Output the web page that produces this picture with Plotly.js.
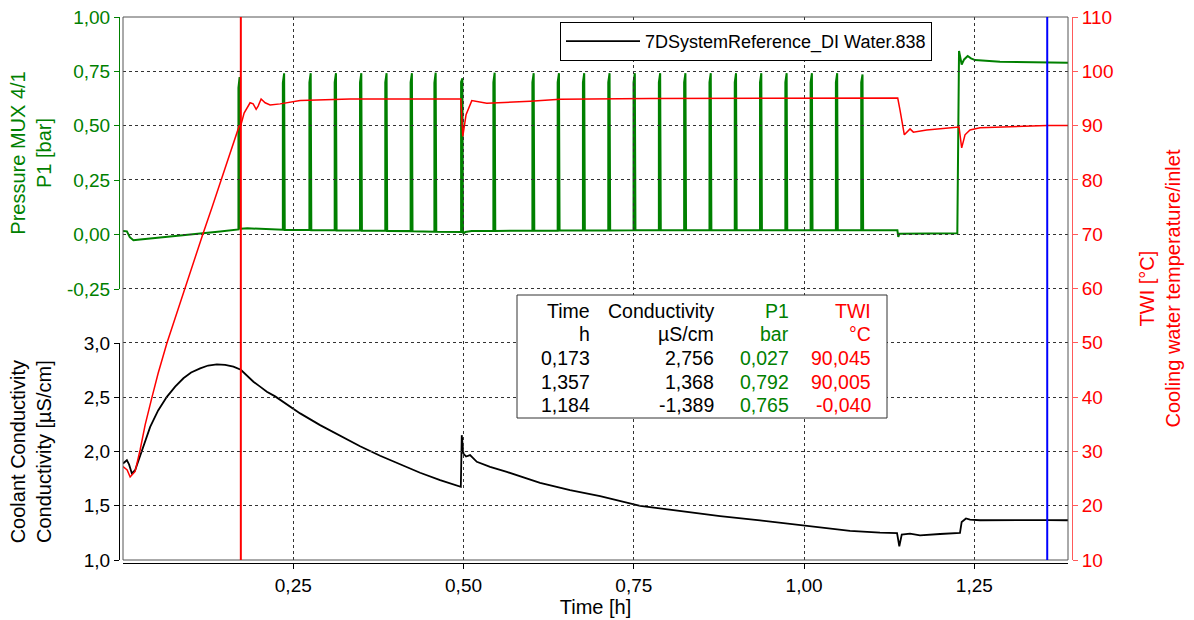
<!DOCTYPE html>
<html>
<head>
<meta charset="utf-8">
<script src="https://cdn.plot.ly/plotly-3.0.1.min.js"></script>
<style>
  html, body { margin: 0; padding: 0; background: #fff; }
  #chart { width: 1194px; height: 620px; }
</style>
</head>
<body>
<div id="chart"></div>
<script>
// ---- Coolant conductivity [µS/cm] over time [h] ----
const conductivityTime = [
  0.0000, 0.0057, 0.0090, 0.0130, 0.0178, 0.0252, 0.0325, 0.0399, 0.0516, 0.0644,
  0.0766, 0.0887, 0.1000, 0.1133, 0.1250, 0.1378, 0.1500, 0.1621, 0.1730, 0.1823,
  0.1915, 0.2013, 0.2112, 0.2234, 0.2355, 0.2468, 0.2601, 0.2894, 0.3188, 0.3481,
  0.3775, 0.4069, 0.4362, 0.4656, 0.4960, 0.4974, 0.4998, 0.5037, 0.5096, 0.5195,
  0.5390, 0.5635, 0.5830, 0.6124, 0.6564, 0.7005, 0.7592, 0.8179, 0.8766, 0.9353,
  1.0000, 1.0675, 1.1115, 1.1365, 1.1398, 1.1434, 1.1555, 1.1702, 1.1996, 1.2289,
  1.2314, 1.2377, 1.2436, 1.2583, 1.3570, 1.3875
];
const conductivity = [
  1.891, 1.921, 1.880, 1.799, 1.829, 1.970, 2.100, 2.229, 2.380, 2.506,
  2.600, 2.677, 2.730, 2.769, 2.795, 2.806, 2.801, 2.784, 2.756, 2.700,
  2.645, 2.600, 2.553, 2.510, 2.460, 2.410, 2.353, 2.245, 2.145, 2.050,
  1.962, 1.880, 1.805, 1.737, 1.675, 2.152, 1.983, 1.955, 1.968, 1.906,
  1.860, 1.813, 1.770, 1.712, 1.645, 1.590, 1.500, 1.450, 1.405, 1.365,
  1.320, 1.268, 1.252, 1.248, 1.127, 1.235, 1.244, 1.228, 1.240, 1.250,
  1.351, 1.383, 1.373, 1.367, 1.368, 1.367
];

// ---- TWI, cooling water temperature at inlet [°C] ----
const twiTime = [
  0.0000, 0.0061, 0.0105, 0.0149, 0.0178, 0.0252, 0.0325, 0.0424, 0.0516, 0.0644,
  0.0766, 0.0912, 0.1044, 0.1172, 0.1309, 0.1441, 0.1573, 0.1705, 0.1730, 0.1778,
  0.1866, 0.1911, 0.1955, 0.1984, 0.2028, 0.2087, 0.2160, 0.2307, 0.2601, 0.3335,
  0.4069, 0.4960, 0.4989, 0.5037, 0.5121, 0.5214, 0.5341, 0.5977, 0.6417, 0.7739,
  0.9207, 1.0675, 1.1375, 1.1408, 1.1472, 1.1556, 1.1604, 1.1800, 1.2241, 1.2275,
  1.2314, 1.2363, 1.2436, 1.2583, 1.3570, 1.3875
];
const twi = [
  27.2, 26.6, 25.3, 26.0, 26.3, 30.3, 34.9, 39.9, 44.4, 49.9,
  54.6, 59.9, 65.1, 70.0, 75.0, 79.9, 85.0, 89.9, 90.045, 92.3,
  94.2, 94.0, 93.0, 93.6, 94.9, 94.2, 93.8, 94.0, 94.6, 94.9,
  94.9, 94.9, 88.0, 92.0, 94.6, 94.35, 94.1, 94.5, 94.85, 95.0,
  95.05, 95.1, 95.08, 92.9, 88.3, 89.4, 88.8, 89.2, 89.7, 89.75,
  85.9, 88.3, 89.2, 89.6, 90.005, 90.0
];

// ---- Pressure MUX 4/1, P1 [bar] ----
const pressureTime = [
  0.0000, 0.0057, 0.0100, 0.0153, 0.0252, 0.0545, 0.0839, 0.1133, 0.1426,
  0.1695, 0.1695, 0.1712, 0.1721, 0.1730, 0.1826, 0.2160,
  0.2347, 0.2347, 0.2366, 0.2375,
  0.2737, 0.2737, 0.2756, 0.2765,
  0.3108, 0.3108, 0.3127, 0.3136,
  0.3480, 0.3480, 0.3499, 0.3508,
  0.3851, 0.3851, 0.3870, 0.3879,
  0.4223, 0.4223, 0.4242, 0.4251,
  0.4572, 0.4572, 0.4591, 0.4600,
  0.4964, 0.4964, 0.4983, 0.4992, 0.5000, 0.5025, 0.5120,
  0.5438, 0.5438, 0.5457, 0.5466,
  0.6011, 0.6011, 0.6030, 0.6039,
  0.6382, 0.6382, 0.6401, 0.6410,
  0.6753, 0.6753, 0.6772, 0.6781,
  0.7125, 0.7125, 0.7144, 0.7153,
  0.7496, 0.7496, 0.7515, 0.7524,
  0.7868, 0.7868, 0.7887, 0.7896,
  0.8239, 0.8239, 0.8258, 0.8267,
  0.8611, 0.8611, 0.8630, 0.8639,
  0.8982, 0.8982, 0.9001, 0.9010,
  0.9353, 0.9353, 0.9372, 0.9381,
  0.9725, 0.9725, 0.9744, 0.9753,
  1.0096, 1.0096, 1.0115, 1.0124,
  1.0467, 1.0467, 1.0486, 1.0495,
  1.0839, 1.0839, 1.0858, 1.0867,
  1.1370, 1.1383, 1.1400, 1.1600, 1.2000, 1.2250,
  1.2275, 1.2314, 1.2350, 1.2402, 1.2450, 1.2510, 1.2877, 1.3570, 1.3875
];
const pressure = [
  0.017, 0.015, -0.012, -0.026, -0.022, -0.012, -0.003, 0.005, 0.014,
  0.024, 0.675, 0.724, 0.028, 0.027, 0.029, 0.025,
  0.022, 0.698, 0.741, 0.021,
  0.021, 0.700, 0.742, 0.020,
  0.020, 0.700, 0.742, 0.019,
  0.019, 0.700, 0.742, 0.018,
  0.018, 0.700, 0.742, 0.017,
  0.016, 0.700, 0.742, 0.015,
  0.013, 0.698, 0.744, 0.013,
  0.012, 0.702, 0.718, 0.010, 0.004, 0.012, 0.016,
  0.017, 0.700, 0.744, 0.017,
  0.018, 0.700, 0.742, 0.018,
  0.018, 0.700, 0.742, 0.019,
  0.019, 0.700, 0.742, 0.019,
  0.019, 0.700, 0.742, 0.019,
  0.020, 0.700, 0.742, 0.020,
  0.020, 0.700, 0.742, 0.020,
  0.020, 0.700, 0.742, 0.020,
  0.020, 0.700, 0.742, 0.020,
  0.020, 0.700, 0.742, 0.020,
  0.020, 0.700, 0.742, 0.020,
  0.020, 0.700, 0.742, 0.020,
  0.020, 0.700, 0.742, 0.020,
  0.020, 0.700, 0.742, 0.020,
  0.020, 0.700, 0.736, 0.020,
  0.020, -0.011, 0.004, 0.005, 0.006, 0.006,
  0.844, 0.782, 0.805, 0.821, 0.810, 0.802, 0.794, 0.792, 0.790
];

// ---- Axis ticks ----
const timeTicks = [0.25, 0.5, 0.75, 1.0, 1.25];
const timeTickLabels = ['0,25', '0,50', '0,75', '1,00', '1,25'];
const pressureTicks = [-0.25, 0, 0.25, 0.5, 0.75, 1.0];
const pressureTickLabels = ['-0,25', '0,00', '0,25', '0,50', '0,75', '1,00'];
const conductivityTicks = [1.0, 1.5, 2.0, 2.5, 3.0];
const conductivityTickLabels = ['1,0', '1,5', '2,0', '2,5', '3,0'];
const twiTicks = [10, 20, 30, 40, 50, 60, 70, 80, 90, 100, 110];

// ---- Cursor readout table ----
const tableHeader = ['Time', 'Conductivity', 'P1', 'TWI'];
const tableUnits = ['h', 'µS/cm', 'bar', '°C'];
const cursor1 = [0.173, 2.756, 0.027, 90.045];
const cursor2 = [1.357, 1.368, 0.792, 90.005];
const cursorDiff = [1.184, -1.389, 0.765, -0.040];

const seriesName = '7DSystemReference_DI Water.838';

// ---- Styling / geometry ----
const FONT = 'Liberation Sans, Arial, Helvetica, sans-serif';
const GREEN = '#008000';
const RED = '#ff0000';
const BLUE = '#0000ff';
const TICK_SIZE = 19;
const TITLE_SIZE = 20;
const L = 119, R = 1072, T = 17, B = 563;          // paper box in px
const fx = v => (v - L) / (R - L);
const fy = v => (B - v) / (B - T);
const xDomain = [fx(123), fx(1068)];
const plotBottom = fy(560);

const fmt = v => v.toFixed(3).replace('.', ',');

const traces = [
  {
    x: twiTime, y: twi, xaxis: 'x2', yaxis: 'y3',
    type: 'scatter', mode: 'lines', name: 'TWI', showlegend: false,
    line: { color: RED, width: 1.5 }
  },
  {
    x: conductivityTime, y: conductivity, xaxis: 'x', yaxis: 'y',
    type: 'scatter', mode: 'lines', name: seriesName, showlegend: true,
    line: { color: '#000000', width: 1.8 }
  },
  {
    x: pressureTime, y: pressure, xaxis: 'x', yaxis: 'y2',
    type: 'scatter', mode: 'lines', name: 'P1', showlegend: false,
    line: { color: GREEN, width: 2 }
  }
];

// cursor readout cells
const colX = [fx(592), fx(716), fx(791), fx(872.5)];
const rowY = [fy(310.5), fy(334), fy(357.5), fy(381.5), fy(405)];
const colColor = ['#000000', '#000000', GREEN, RED];
const rows = [tableHeader, tableUnits, cursor1.map(fmt), cursor2.map(fmt), cursorDiff.map(fmt)];
const annotations = [];
rows.forEach((row, r) => {
  row.forEach((txt, c) => {
    annotations.push({
      xref: 'paper', yref: 'paper', x: colX[c], y: rowY[r],
      xanchor: 'right', yanchor: 'middle', showarrow: false,
      text: txt, font: { family: FONT, size: 19.5, color: colColor[c] }
    });
  });
});

const shapes = [
  // plot frame
  { type: 'rect', xref: 'paper', yref: 'paper', x0: xDomain[0], x1: xDomain[1], y0: plotBottom, y1: 1,
    line: { color: '#555555', width: 1 }, fillcolor: 'rgba(0,0,0,0)', layer: 'above' },
  // readout box
  { type: 'rect', xref: 'paper', yref: 'paper', x0: fx(517), x1: fx(887), y0: fy(418), y1: fy(295),
    line: { color: '#333333', width: 1 }, fillcolor: '#ffffff', layer: 'above' },
  // cursors
  { type: 'line', xref: 'x', yref: 'paper', x0: cursor1[0], x1: cursor1[0], y0: plotBottom, y1: 1,
    line: { color: RED, width: 2 }, layer: 'above' },
  { type: 'line', xref: 'x', yref: 'paper', x0: cursor2[0], x1: cursor2[0], y0: plotBottom, y1: 1,
    line: { color: BLUE, width: 2 }, layer: 'above' }
];

const timeRange = [0, 1.3875];

const layout = {
  width: 1194, height: 620,
  margin: { l: L, r: 1194 - R, t: T, b: 620 - B, pad: 0 },
  paper_bgcolor: '#ffffff', plot_bgcolor: 'rgba(0,0,0,0)',
  font: { family: FONT, size: TICK_SIZE, color: '#000000' },
  hovermode: false,
  showlegend: true,
  legend: {
    x: fx(560), y: fy(22), xanchor: 'left', yanchor: 'top',
    bgcolor: '#ffffff', bordercolor: '#000000', borderwidth: 1, itemwidth: 74,
    font: { family: FONT, size: 18, color: '#000000' }
  },
  xaxis: {
    domain: xDomain, range: timeRange, anchor: 'free', position: 0,
    showline: true, linecolor: '#000000', linewidth: 1, mirror: false,
    ticks: 'outside', ticklen: 5, tickcolor: '#000000',
    tickmode: 'array', tickvals: timeTicks, ticktext: timeTickLabels,
    showgrid: false, zeroline: false,
    tickfont: { family: FONT, size: TICK_SIZE, color: '#000000' },
    title: { text: 'Time [h]', font: { family: FONT, size: TITLE_SIZE, color: '#000000' }, standoff: 1 }
  },
  xaxis2: {
    domain: xDomain, range: timeRange, anchor: 'y3',
    showline: false, showticklabels: false, ticks: '',
    tickmode: 'array', tickvals: timeTicks,
    showgrid: true, gridcolor: '#333333', griddash: 'dot', gridwidth: 1, zeroline: false
  },
  yaxis: {
    domain: [plotBottom, fy(343.3)], range: [1, 3], anchor: 'free', position: 0, side: 'left',
    showline: true, linecolor: '#000000', linewidth: 1,
    ticks: 'outside', ticklen: 5, tickcolor: '#000000',
    tickmode: 'array', tickvals: conductivityTicks, ticktext: conductivityTickLabels,
    showgrid: false, zeroline: false,
    tickfont: { family: FONT, size: TICK_SIZE, color: '#000000' },
    title: { text: 'Coolant Conductivity<br>Conductivity [µS/cm]',
             font: { family: FONT, size: TITLE_SIZE, color: '#000000' }, standoff: 25 }
  },
  yaxis2: {
    domain: [fy(289), 1], range: [-0.25, 1.0], anchor: 'free', position: 0, side: 'left',
    showline: true, linecolor: GREEN, linewidth: 1,
    ticks: 'outside', ticklen: 5, tickcolor: GREEN,
    tickmode: 'array', tickvals: pressureTicks, ticktext: pressureTickLabels,
    showgrid: false, zeroline: false,
    tickfont: { family: FONT, size: TICK_SIZE, color: GREEN },
    title: { text: 'Pressure MUX 4/1<br>P1 [bar]',
             font: { family: FONT, size: TITLE_SIZE, color: GREEN }, standoff: 8 }
  },
  yaxis3: {
    domain: [plotBottom, 1], range: [10, 110], anchor: 'free', position: 1, side: 'right',
    showline: true, linecolor: '#ff5a5a', linewidth: 1,
    ticks: 'outside', ticklen: 5, tickcolor: '#ff5a5a',
    tickmode: 'array', tickvals: twiTicks,
    showgrid: true, gridcolor: '#333333', griddash: 'dot', gridwidth: 1, zeroline: false,
    tickfont: { family: FONT, size: TICK_SIZE, color: RED },
    title: { text: 'TWI [°C]<br>Cooling water temperature/inlet',
             font: { family: FONT, size: TITLE_SIZE, color: RED }, standoff: 27 }
  },
  shapes: shapes,
  annotations: annotations
};

Plotly.newPlot('chart', traces, layout, { displayModeBar: false, staticPlot: true });
</script>
</body>
</html>
